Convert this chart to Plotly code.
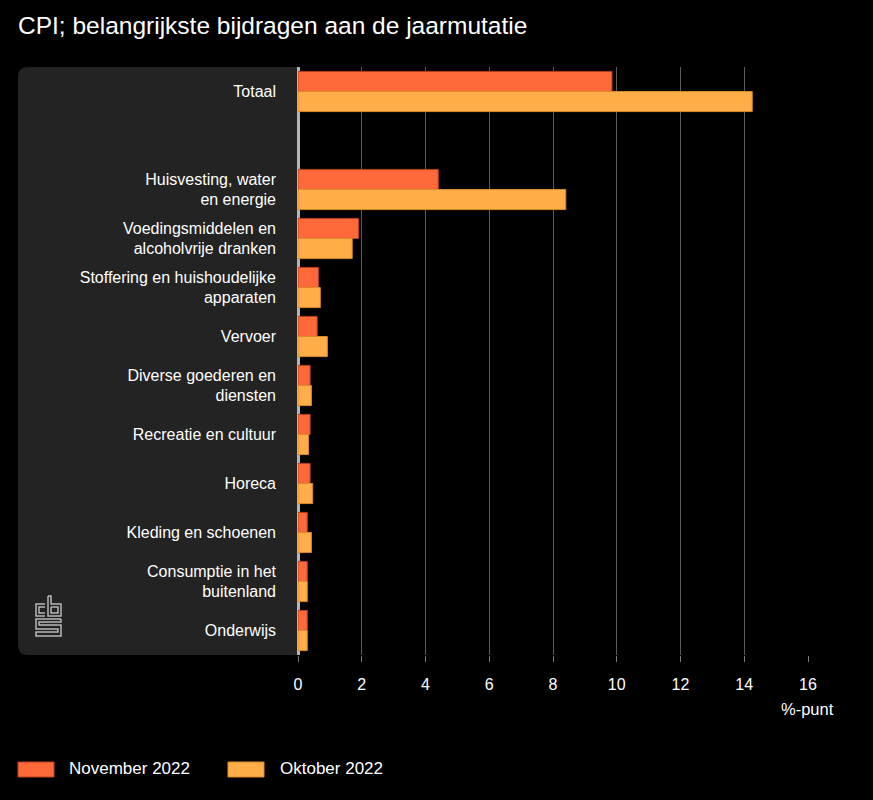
import plotly.graph_objects as go

categories = ["Totaal", " ", "Huisvesting, water<br>en energie",
              "Voedingsmiddelen en<br>alcoholvrije dranken",
              "Stoffering en huishoudelijke<br>apparaten", "Vervoer",
              "Diverse goederen en<br>diensten", "Recreatie en cultuur", "Horeca",
              "Kleding en schoenen", "Consumptie in het<br>buitenland", "Onderwijs"]
nov_2022 = [9.85, None, 4.4, 1.9, 0.64, 0.6, 0.38, 0.38, 0.38, 0.29, 0.29, 0.29]
okt_2022 = [14.25, None, 8.4, 1.7, 0.7, 0.92, 0.42, 0.33, 0.46, 0.42, 0.29, 0.29]
series_names = ["November 2022", "Oktober 2022"]
x_ticks = [0, 2, 4, 6, 8, 10, 12, 14, 16]

W, H = 873, 800
L, R, T, B = 298, 808, 67, 655
PW, PH = R - L, B - T

def px(x):
    return (x - L) / PW

def py(y):
    return (B - y) / PH

FONT = "Arial, 'Liberation Sans', sans-serif"
NOV_C, NOV_L = "#ff6838", "#b8401c"
OKT_C, OKT_L = "#ffad48", "#d98a2a"

fig = go.Figure()
fig.add_trace(go.Bar(y=categories, x=nov_2022, name=series_names[0], orientation="h",
                     marker=dict(color=NOV_C, line=dict(color=NOV_L, width=1)), showlegend=False))
fig.add_trace(go.Bar(y=categories, x=okt_2022, name=series_names[1], orientation="h",
                     marker=dict(color=OKT_C, line=dict(color=OKT_L, width=1)), showlegend=False))

shapes = []
r = 10
rx, ry = r / PW, r / PH
x0, x1, y0, y1 = px(18), px(L), py(B), py(T)
path = (f"M {x1},{y1} L {x0+rx},{y1} Q {x0},{y1} {x0},{y1-ry} "
        f"L {x0},{y0+ry} Q {x0},{y0} {x0+rx},{y0} L {x1},{y0} Z")
shapes.append(dict(type="path", path=path, xref="paper", yref="paper",
                   fillcolor="#232323", line=dict(width=0), layer="below"))

def pp(points):
    return "M " + " L ".join(f"{px(a)},{py(b)}" for a, b in points)

logo_paths = [
    [(45, 604), (36, 604), (36, 616), (45, 616)],
    [(45, 607), (39, 607), (39, 613), (45, 613)],
    [(48, 596), (48, 616), (61, 616), (61, 604), (51, 604), (51, 596), (48, 596)],
    [(51, 607), (58, 607), (58, 613), (51, 613), (51, 607)],
    [(61, 619), (36, 619), (36, 629), (58, 629), (58, 632), (36, 632), (36, 636),
     (61, 636), (61, 625), (39, 625), (39, 622), (61, 622), (61, 619)],
]
for pts in logo_paths:
    shapes.append(dict(type="path", path=pp(pts), xref="paper", yref="paper",
                       line=dict(color="#b8b8b8", width=1.5)))

shapes.append(dict(type="rect", xref="paper", yref="paper",
                   x0=px(18), x1=px(54), y0=py(777), y1=py(762),
                   fillcolor=NOV_C, line=dict(color=NOV_L, width=1)))
shapes.append(dict(type="rect", xref="paper", yref="paper",
                   x0=px(228), x1=px(264), y0=py(777), y1=py(762),
                   fillcolor=OKT_C, line=dict(color=OKT_L, width=1)))

annotations = [
    dict(text=series_names[0], xref="paper", yref="paper", x=px(67), y=py(769),
         xanchor="left", yanchor="middle", showarrow=False,
         font=dict(family=FONT, size=17, color="white")),
    dict(text=series_names[1], xref="paper", yref="paper", x=px(278), y=py(769),
         xanchor="left", yanchor="middle", showarrow=False,
         font=dict(family=FONT, size=17, color="white")),
    dict(text="%-punt", xref="paper", yref="paper", x=px(836), y=py(709),
         xanchor="right", yanchor="middle", showarrow=False,
         font=dict(family=FONT, size=16.5, color="white")),
]

fig.update_layout(
    width=W, height=H,
    margin=dict(l=L, r=W - R, t=T, b=H - B, pad=0),
    paper_bgcolor="black", plot_bgcolor="black",
    barmode="group", bargap=0.18, bargroupgap=0.0,
    title=dict(text="CPI; belangrijkste bijdragen aan de jaarmutatie",
               x=18 / W, xanchor="left", xref="container",
               y=1 - 25 / H, yanchor="middle", yref="container",
               font=dict(family=FONT, size=24.5, color="white")),
    font=dict(family=FONT, color="white", size=16),
    shapes=shapes, annotations=annotations,
    showlegend=False,
    xaxis=dict(range=[0, 16], tickvals=x_ticks, ticktext=[str(v) for v in x_ticks],
               showgrid=True, gridcolor="#5a5a5a", gridwidth=1,
               zeroline=True, zerolinecolor="#b5b5b5", zerolinewidth=3,
               ticks="outside", ticklen=6, tickcolor="#777", tickwidth=1,
               ticklabelstandoff=9,
               tickfont=dict(family=FONT, size=16, color="white"),
               showline=False, fixedrange=True),
    yaxis=dict(categoryorder="array", categoryarray=categories, autorange="reversed",
               showgrid=False, zeroline=False, showline=False, ticks="",
               ticklabelstandoff=21,
               tickfont=dict(family=FONT, size=16, color="white"), fixedrange=True),
)

fig.write_html("out.html", config={"displayModeBar": False},
               post_script="document.body.style.margin='0';document.body.style.background='black';")
